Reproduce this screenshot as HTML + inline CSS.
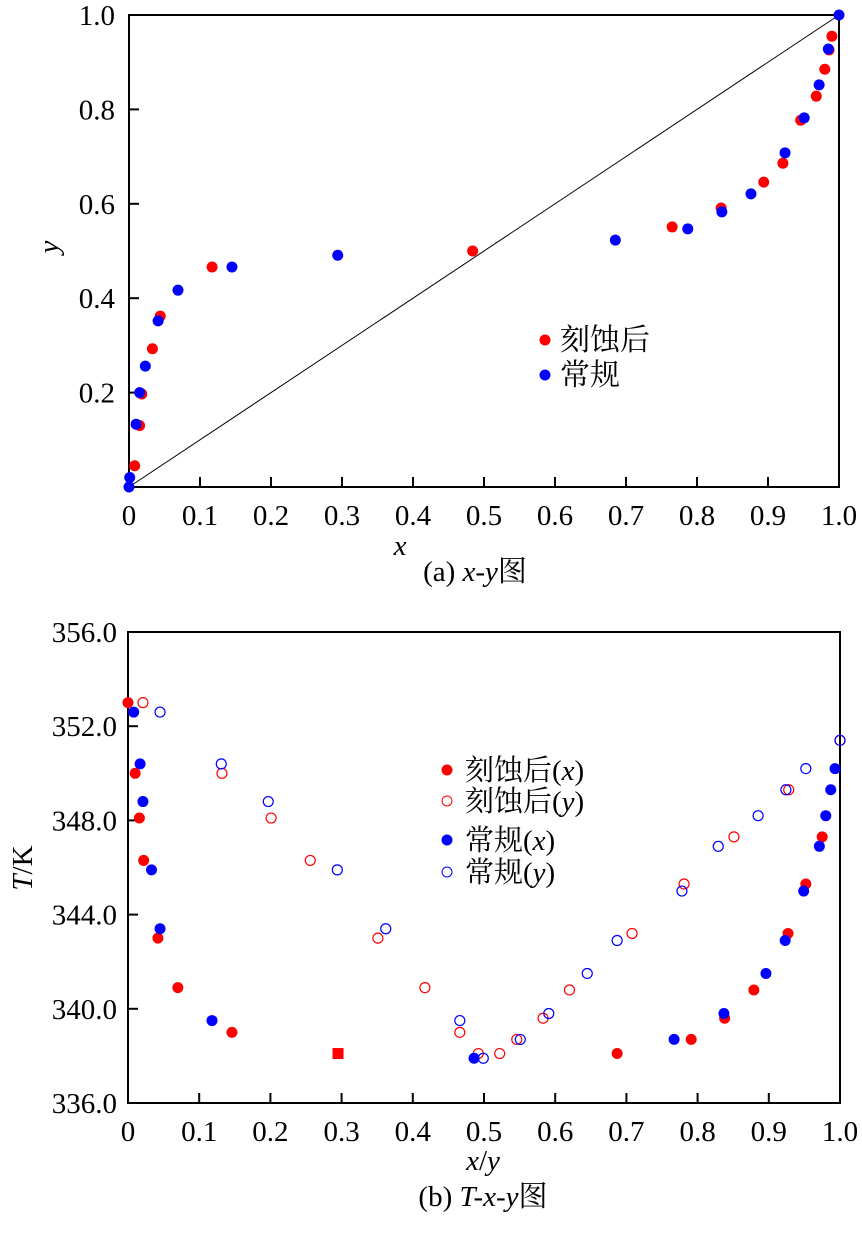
<!DOCTYPE html>
<html><head><meta charset="utf-8"><style>
body{margin:0;background:#fff}
svg text{font-family:"Liberation Serif","Noto Serif CJK SC","Noto Sans CJK SC",serif;fill:#000}
</style></head><body>
<svg id="s" width="862" height="1228" viewBox="0 0 862 1228">
<line x1="129" y1="487" x2="839" y2="15" stroke="#000" stroke-width="1"/>
<rect x="129" y="15" width="710" height="472" fill="none" stroke="#000" stroke-width="2"/>
<rect x="128" y="632" width="712" height="471" fill="none" stroke="#000" stroke-width="2"/>
<text x="400" y="555" font-size="29" font-style="italic" text-anchor="middle">x</text>
<text x="58" y="247" font-size="29" font-style="italic" text-anchor="middle" transform="rotate(-90 58 247)">y</text>
<text x="475" y="581" font-size="29" text-anchor="middle">(a) <tspan font-style="italic">x-y</tspan>图</text>
<text x="483" y="1170" font-size="29" text-anchor="middle"><tspan font-style="italic">x</tspan>/<tspan font-style="italic">y</tspan></text>
<text x="32" y="868" font-size="29" text-anchor="middle" transform="rotate(-90 32 868)"><tspan font-style="italic">T</tspan>/K</text>
<text x="483" y="1206" font-size="29" text-anchor="middle">(b) <tspan font-style="italic">T-x-y</tspan>图</text>
<g>
<circle cx="545" cy="340" r="5.5" fill="#f00"/><text x="560" y="350" font-size="30">刻蚀后</text>
<circle cx="545" cy="375" r="5.5" fill="#00f"/><text x="560" y="385" font-size="30">常规</text>
</g>
<g>
<circle cx="447" cy="770" r="5.5" fill="#f00"/><text x="465" y="780" font-size="29">刻蚀后(<tspan font-style="italic">x</tspan>)</text>
<circle cx="447" cy="801" r="5" fill="none" stroke="#f00"/><text x="465" y="811" font-size="29">刻蚀后(<tspan font-style="italic">y</tspan>)</text>
<circle cx="447" cy="840" r="5.5" fill="#00f"/><text x="465" y="850" font-size="29">常规(<tspan font-style="italic">x</tspan>)</text>
<circle cx="447" cy="872" r="5" fill="none" stroke="#00f"/><text x="465" y="882" font-size="29">常规(<tspan font-style="italic">y</tspan>)</text>
</g>
</svg>
<script>
const xTicks=[0,0.1,0.2,0.3,0.4,0.5,0.6,0.7,0.8,0.9,1.0];
const xTickLabels=["0","0.1","0.2","0.3","0.4","0.5","0.6","0.7","0.8","0.9","1.0"];
const yTicksA=[0.2,0.4,0.6,0.8,1.0];
const yTickLabelsA=["0.2","0.4","0.6","0.8","1.0"];
const tTicks=[336,340,344,348,352,356];
const tTickLabels=["336.0","340.0","344.0","348.0","352.0","356.0"];
const etchX=[0.008,0.015,0.018,0.033,0.044,0.117,0.484,0.765,0.834,0.894,0.921,0.946,0.968,0.980,0.986,0.990];
const etchY=[0.045,0.13,0.197,0.293,0.362,0.466,0.50,0.551,0.591,0.646,0.686,0.777,0.828,0.885,0.926,0.955];
const convX=[0,0.001,0.01,0.015,0.023,0.041,0.069,0.145,0.294,0.685,0.787,0.835,0.876,0.924,0.951,0.972,0.985,1.0];
const convY=[0,0.02,0.133,0.2,0.256,0.352,0.417,0.466,0.491,0.523,0.547,0.583,0.621,0.708,0.782,0.852,0.928,1.0];
const etchTx=[0,0.01,0.016,0.022,0.042,0.07,0.146,0.687,0.791,0.838,0.879,0.927,0.952,0.975];
const etchTxT=[353.0,350.0,348.1,346.3,343.0,340.9,339.0,338.1,338.7,339.6,340.8,343.2,345.3,347.3];
const etchSqX=[0.295];const etchSqT=[338.1];
const etchTy=[0.021,0.132,0.201,0.256,0.351,0.417,0.466,0.492,0.522,0.546,0.583,0.62,0.708,0.781,0.851,0.928,1.0];
const etchTyT=[353.0,350.0,348.1,346.3,343.0,340.9,339.0,338.1,338.1,338.7,339.6,340.8,343.2,345.3,347.3,349.3,351.4];
const convTx=[0.008,0.017,0.021,0.033,0.045,0.118,0.486,0.767,0.837,0.896,0.923,0.949,0.971,0.98,0.987,0.993];
const convTxT=[352.6,350.4,348.8,345.9,343.4,339.5,337.9,338.7,339.8,341.5,342.9,345.0,346.9,348.2,349.3,350.2];
const convTy=[0.045,0.131,0.197,0.294,0.362,0.466,0.499,0.551,0.591,0.645,0.687,0.778,0.829,0.885,0.924,0.952,1.0];
const convTyT=[352.6,350.4,348.8,345.9,343.4,339.5,337.9,338.7,339.8,341.5,342.9,345.0,346.9,348.2,349.3,350.2,351.4];
const NS='http://www.w3.org/2000/svg';const s=document.getElementById('s');
const xa=v=>129+v*710, ya=v=>487-v*472, xb=v=>128+v*712, tb=v=>1103-(v-336)*23.55;
function mk(tag,at){const e=document.createElementNS(NS,tag);for(const k in at)e.setAttribute(k,at[k]);s.appendChild(e);return e;}
xTicks.forEach((v,i)=>{
 let l=mk('line',{x1:xa(v),x2:xa(v),y1:487,y2:477,stroke:'#000','stroke-width':2});
 
 
 let t=mk('text',{x:xa(v),y:525,'font-size':29,'text-anchor':'middle'});t.textContent=xTickLabels[i];
 
 
 let l2=mk('line',{x1:xb(v),x2:xb(v),y1:1103,y2:1093,stroke:'#000','stroke-width':2});
 
 
 let t2=mk('text',{x:xb(v),y:1141,'font-size':29,'text-anchor':'middle'});t2.textContent=xTickLabels[i];
 
 
});
yTicksA.forEach((v,i)=>{
 let l=mk('line',{x1:129,x2:139,y1:ya(v),y2:ya(v),stroke:'#000','stroke-width':2});
 
 
 let t=mk('text',{x:115,y:ya(v)+10,'font-size':29,'text-anchor':'end'});t.textContent=yTickLabelsA[i];
 
 
});
tTicks.forEach((v,i)=>{
 let l=mk('line',{x1:128,x2:138,y1:tb(v),y2:tb(v),stroke:'#000','stroke-width':2});
 
 
 let t=mk('text',{x:117,y:tb(v)+10,'font-size':29,'text-anchor':'end'});t.textContent=tTickLabels[i];
 
 
});
function dots(X,Y,fx,fy,col,open,name){X.forEach((v,i)=>{
 let c=mk('circle',{cx:fx(v),cy:fy(Y[i]),r:open?5:5.5,fill:open?'none':col,stroke:open?col:'none','stroke-width':1.2});
 
 
});}
dots(etchX,etchY,xa,ya,'#f00',false,'etched-point');
dots(convX,convY,xa,ya,'#00f',false,'conventional-point');
dots(etchTy,etchTyT,xb,tb,'#f00',true,'etched-y-point');
dots(convTy,convTyT,xb,tb,'#00f',true,'conventional-y-point');
dots(etchTx,etchTxT,xb,tb,'#f00',false,'etched-x-point');
dots(convTx,convTxT,xb,tb,'#00f',false,'conventional-x-point');
etchSqX.forEach((v,i)=>{
 let r=mk('rect',{x:xb(v)-5.5,y:tb(etchSqT[i])-5.5,width:11,height:11,fill:'#f00'});
 
 
});
</script>
</body></html>
